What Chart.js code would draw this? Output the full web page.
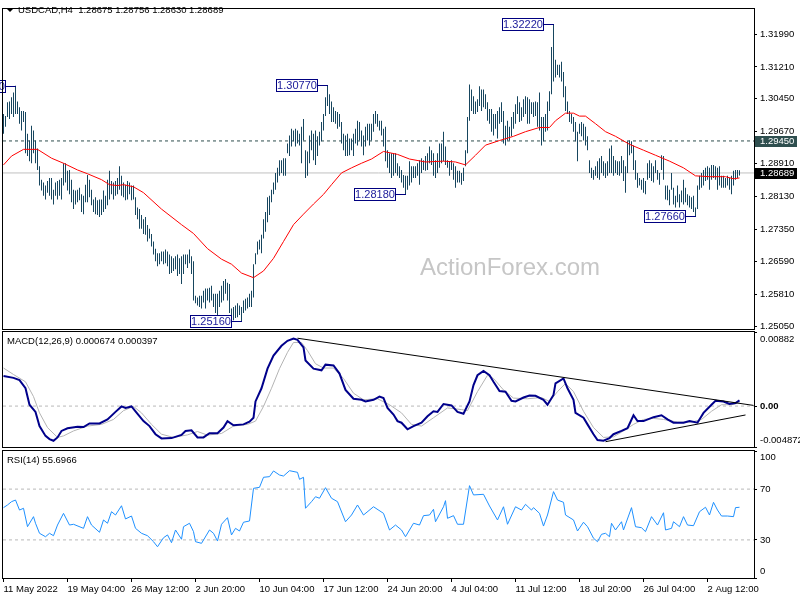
<!DOCTYPE html>
<html>
<head>
<meta charset="utf-8">
<title>USDCAD H4</title>
<script src="https://cdn.jsdelivr.net/npm/chart.js@4.4.0/dist/chart.umd.min.js"></script>
<style>
  html, body { margin: 0; padding: 0; background: #fff; }
  #wrap { position: relative; width: 800px; height: 600px; overflow: hidden; }
  #wrap canvas { position: absolute; left: 0; top: 0; }
</style>
</head>
<body>
<div id="wrap">
  <canvas id="priceChart" width="800" height="600"></canvas>
  <canvas id="macdChart" width="800" height="600"></canvas>
  <canvas id="rsiChart" width="800" height="600"></canvas>
</div>
<script>
const FONT = '"Liberation Sans", Arial, sans-serif';

// time axis (bar index, H4 bars)
const xTickIndex = [0, 32, 64, 96, 128, 160, 192, 224, 256, 288, 320, 352];
const xTickLabels = ['11 May 2022', '19 May 04:00', '26 May 12:00', '2 Jun 20:00', '10 Jun 04:00', '17 Jun 12:00',
  '24 Jun 20:00', '4 Jul 04:00', '11 Jul 12:00', '18 Jul 20:00', '26 Jul 04:00', '2 Aug 12:00'];
const xMin = -0.25, xMax = 375.25;

// price panel
const priceTicks = [1.2505, 1.2581, 1.2659, 1.2735, 1.2813, 1.2891, 1.2967, 1.3045, 1.3121, 1.3199];
const priceTickLabels = ['1.25050', '1.25810', '1.26590', '1.27350', '1.28130', '1.28910', '1.29670', '1.30450', '1.31210', '1.31990'];
const priceMin = 1.2498, priceMax = 1.32586;

const barHigh = [
  1.3009,1.3004,1.3037,1.3039,1.3049,1.3060,1.3076,1.3039,1.3025,1.3016,
  1.3016,1.3014,1.2962,1.2946,1.2981,1.2970,1.2946,1.2927,1.2885,1.2853,
  1.2846,1.2839,1.2850,1.2857,1.2857,1.2829,1.2846,1.2850,1.2853,1.2857,
  1.2892,1.2892,1.2874,1.2876,1.2853,1.2829,1.2827,1.2829,1.2834,1.2818,
  1.2815,1.2841,1.2864,1.2853,1.2829,1.2806,1.2811,1.2804,1.2806,1.2806,
  1.2827,1.2815,1.2853,1.2874,1.2850,1.2846,1.2850,1.2857,1.2885,1.2862,
  1.2846,1.2841,1.2850,1.2846,1.2839,1.2839,1.2811,1.2787,1.2783,1.2769,
  1.2759,1.2764,1.2745,1.2736,1.2724,1.2706,1.2689,1.2678,1.2678,1.2682,
  1.2682,1.2687,1.2682,1.2675,1.2671,1.2666,1.2671,1.2675,1.2666,1.2671,
  1.2675,1.2675,1.2675,1.2687,1.2671,1.2659,1.2577,1.2573,1.2577,1.2577,
  1.2589,1.2594,1.2594,1.2596,1.2601,1.2582,1.2582,1.2582,1.2589,1.2601,
  1.2612,1.2617,1.2608,1.2605,1.2547,1.2550,1.2554,1.2559,1.2554,1.2550,
  1.2566,1.2570,1.2573,1.2582,1.2589,1.2652,1.2678,1.2706,1.2710,1.2722,
  1.2759,1.2776,1.2811,1.2815,1.2829,1.2846,1.2869,1.2881,1.2899,1.2899,
  1.2904,1.2904,1.2939,1.2958,1.2974,1.2970,1.2974,1.2970,1.2962,1.2979,
  1.2997,1.2923,1.2920,1.2958,1.2970,1.2962,1.2970,1.2956,1.2967,1.2990,
  1.3009,1.3049,1.3077,1.3056,1.3039,1.3025,1.3016,1.3014,1.3009,1.2990,
  1.2962,1.2958,1.2962,1.2951,1.2951,1.2962,1.2974,1.2993,1.2990,1.2970,
  1.2958,1.2979,1.2986,1.2986,1.2986,1.3009,1.3016,1.3009,1.2993,1.2993,
  1.2974,1.2979,1.2923,1.2916,1.2916,1.2916,1.2916,1.2892,1.2885,1.2876,
  1.2864,1.2862,1.2862,1.2897,1.2885,1.2885,1.2885,1.2892,1.2899,1.2904,
  1.2899,1.2909,1.2916,1.2932,1.2923,1.2916,1.2899,1.2916,1.2939,1.2939,
  1.2967,1.2932,1.2899,1.2897,1.2899,1.2892,1.2885,1.2874,1.2874,1.2869,
  1.2881,1.2923,1.3002,1.3079,1.3067,1.3051,1.3039,1.3044,1.3075,1.3067,
  1.3067,1.3056,1.3037,1.3021,1.3021,1.3009,1.3009,1.3016,1.3025,1.3037,
  1.3016,1.2981,1.2993,1.2979,1.3002,1.3014,1.3032,1.3051,1.3037,1.3025,
  1.3044,1.3051,1.3049,1.3044,1.3037,1.3037,1.3039,1.3037,1.3060,1.3002,
  1.3002,1.3009,1.3039,1.3063,1.3168,1.3222,1.3138,1.3126,1.3126,1.3133,
  1.3109,1.3075,1.3039,1.3016,1.3009,1.3002,1.2990,1.2967,1.2986,1.2990,
  1.2986,1.2979,1.2956,1.2899,1.2881,1.2876,1.2885,1.2897,1.2904,1.2909,
  1.2897,1.2892,1.2897,1.2927,1.2934,1.2909,1.2899,1.2897,1.2897,1.2909,
  1.2899,1.2885,1.2944,1.2946,1.2944,1.2934,1.2899,1.2869,1.2857,1.2853,
  1.2857,1.2850,1.2892,1.2899,1.2892,1.2885,1.2899,1.2876,1.2869,1.2911,
  1.2909,1.2839,1.2839,1.2829,1.2869,1.2834,1.2815,1.2839,1.2818,1.2827,
  1.2853,1.2834,1.2818,1.2815,1.2811,1.2815,1.2787,1.2839,1.2862,1.2869,
  1.2876,1.2881,1.2885,1.2881,1.2888,1.2888,1.2885,1.2881,1.2885,1.2862,
  1.2862,1.2857,1.2862,1.2857,1.2862,1.2874,1.2876,1.2876,1.28756
];
const barLow = [
  1.2962,1.2979,1.3002,1.2997,1.3009,1.3002,1.3009,1.3009,1.2986,1.2970,
  1.2990,1.2916,1.2909,1.2897,1.2892,1.2916,1.2892,1.2876,1.2839,1.2827,
  1.2815,1.2806,1.2822,1.2815,1.2806,1.2794,1.2815,1.2806,1.2815,1.2806,
  1.2839,1.2846,1.2827,1.2818,1.2799,1.2783,1.2794,1.2799,1.2804,1.2776,
  1.2771,1.2799,1.2799,1.2811,1.2792,1.2776,1.2771,1.2769,1.2764,1.2769,
  1.2776,1.2783,1.2792,1.2806,1.2818,1.2806,1.2815,1.2818,1.2829,1.2815,
  1.2811,1.2804,1.2806,1.2818,1.2804,1.2806,1.2769,1.2759,1.2736,1.2736,
  1.2724,1.2722,1.2706,1.2713,1.2694,1.2675,1.2659,1.2647,1.2652,1.2659,
  1.2652,1.2654,1.2647,1.2629,1.2631,1.2636,1.2640,1.2624,1.2629,1.2605,
  1.2629,1.2652,1.2643,1.2654,1.2629,1.2566,1.2559,1.2554,1.2550,1.2547,
  1.2561,1.2547,1.2566,1.2561,1.2566,1.2550,1.2536,1.2531,1.2550,1.2561,
  1.2566,1.2582,1.2566,1.2536,1.2524,1.2519,1.2524,1.2526,1.2531,1.2516,
  1.2536,1.2542,1.2547,1.2550,1.2550,1.2573,1.2652,1.2675,1.2687,1.2678,
  1.2713,1.2729,1.2752,1.2769,1.2799,1.2818,1.2829,1.2846,1.2862,1.2869,
  1.2862,1.2862,1.2916,1.2909,1.2932,1.2944,1.2932,1.2939,1.2934,1.2892,
  1.2946,1.2857,1.2862,1.2892,1.2923,1.2899,1.2888,1.2909,1.2934,1.2944,
  1.2970,1.3004,1.3028,1.3009,1.2990,1.2990,1.2986,1.2974,1.2979,1.2939,
  1.2923,1.2909,1.2909,1.2911,1.2923,1.2909,1.2939,1.2934,1.2946,1.2932,
  1.2911,1.2932,1.2946,1.2934,1.2946,1.2967,1.2986,1.2979,1.2970,1.2958,
  1.2932,1.2897,1.2881,1.2869,1.2857,1.2862,1.2869,1.2862,1.2857,1.2846,
  1.2834,1.2818,1.2829,1.2839,1.2846,1.2857,1.2857,1.2862,1.2841,1.2869,
  1.2876,1.2874,1.2876,1.2892,1.2888,1.2862,1.2857,1.2869,1.2881,1.2892,
  1.2897,1.2888,1.2881,1.2862,1.2876,1.2853,1.2834,1.2846,1.2846,1.2841,
  1.2850,1.2885,1.2916,1.2993,1.3016,1.3009,1.3009,1.3014,1.3028,1.3016,
  1.3025,1.3021,1.2993,1.2986,1.2967,1.2958,1.2974,1.2951,1.2986,1.2990,
  1.2939,1.2934,1.2946,1.2946,1.2956,1.2974,1.2986,1.3009,1.2990,1.2993,
  1.3002,1.3009,1.2986,1.2986,1.3009,1.3002,1.3004,1.2979,1.2970,1.2934,
  1.2944,1.2967,1.2970,1.3016,1.3056,1.3086,1.3096,1.3102,1.3096,1.3086,
  1.3049,1.3016,1.3009,1.2990,1.2986,1.2967,1.2944,1.2897,1.2962,1.2956,
  1.2946,1.2934,1.2923,1.2869,1.2857,1.2853,1.2862,1.2857,1.2853,1.2869,
  1.2862,1.2857,1.2862,1.2869,1.2869,1.2862,1.2869,1.2864,1.2862,1.2869,
  1.2850,1.2822,1.2869,1.2911,1.2916,1.2876,1.2853,1.2834,1.2839,1.2829,
  1.2822,1.2818,1.2853,1.2857,1.2850,1.2846,1.2869,1.2853,1.2841,1.2876,
  1.2853,1.2806,1.2804,1.2792,1.2829,1.2794,1.2787,1.2799,1.2787,1.2799,
  1.2794,1.2799,1.2792,1.2787,1.2783,1.2776,1.2766,1.2783,1.2829,1.2834,
  1.2839,1.2850,1.2853,1.2829,1.2853,1.2857,1.2853,1.2829,1.2839,1.2834,
  1.2834,1.2834,1.2839,1.2829,1.2818,1.2839,1.2853,1.2857,1.28630
];

// moving average (red)
const maIndex = [0,4,10,17,24,30,37,42,49,53,57,60,65,70,79,89,95,102,109,114,
  119,125,130,135,140,145,150,155,160,164,169,174,179,184,190,197,203,211,220,226,
  231,236,241,248,255,261,268,273,276,281,285,288,291,296,301,306,313,320,326,333,
  340,346,353,361,365,368];
const maValue = [1.2888,1.2909,1.2925,1.2925,1.2904,1.2892,1.2876,1.2867,1.2853,1.2841,
  1.2839,1.2841,1.2836,1.2822,1.2783,1.2746,1.2725,1.2689,1.2664,1.2652,
  1.2631,1.2620,1.2636,1.2666,1.2706,1.2746,1.2771,1.2795,1.2818,1.2841,
  1.2869,1.2881,1.2892,1.2902,1.2920,1.2913,1.2902,1.2895,1.2897,1.2895,
  1.2888,1.2911,1.2935,1.2946,1.2956,1.2967,1.2977,1.2977,1.2993,1.3011,
  1.3011,1.3004,1.3004,1.2986,1.2967,1.2956,1.2937,1.2923,1.2911,1.2897,
  1.2881,1.2862,1.2860,1.2860,1.2855,1.2857];

// marked highs / lows
const extremeIndex = [6, 162, 119, 201, 275, 346];
const extremeValue = [1.3076, 1.3077, 1.2516, 1.2818, 1.3222, 1.2766];
const extremeText = ['1.30760', '1.30770', '1.25160', '1.28180', '1.32220', '1.27660'];

// horizontal levels: resistance line and last price
const levelValues = [1.2945, 1.28689];
const levelText = ['1.29450', '1.28689'];

// MACD panel
const macdTicks = [-0.004872, 0, 0.00882];
const macdTickLabels = ['-0.004872', '0.00', '0.00882'];
const macdIndex = [0,5,8,11,13,16,18,21,23,25,27,29,32,37,40,43,48,52,56,59,
  61,64,66,70,73,76,79,84,89,91,94,97,100,103,107,110,112,115,120,123,
  125,126,129,132,135,139,142,145,147,150,151,155,159,161,165,168,171,175,179,181,
  185,188,190,192,195,197,199,202,205,209,212,215,217,220,224,227,230,233,235,237,
  240,243,245,248,251,254,256,260,263,266,270,272,275,276,280,282,285,286,290,292,
  295,297,300,303,305,309,312,315,317,320,325,329,332,335,340,343,347,350,354,356,
  360,363,366,368];
const macdValue = [0.00359,0.00336,0.00309,0.00212,0.00016,-0.00069,-0.00238,-0.00355,-0.00393,-0.00413,
  -0.00373,-0.00296,-0.00264,-0.00245,-0.00249,-0.00206,-0.00206,-0.00159,-0.00069,-0.00004,
  -0.00022,-0.00004,-0.00062,-0.00179,-0.00238,-0.00335,-0.00385,-0.00381,-0.00343,-0.00296,
  -0.00288,-0.00373,-0.00373,-0.00323,-0.00323,-0.00256,-0.00179,-0.00229,-0.00218,-0.00186,
  -0.00139,0.00055,0.00212,0.00446,0.00601,0.00718,0.00777,0.00804,0.00789,0.00698,
  0.00543,0.00446,0.00426,0.00493,0.00484,0.00387,0.00192,0.00087,0.00075,0.00055,
  0.00075,0.00113,0.00095,-0.00022,-0.00101,-0.00179,-0.00198,-0.00276,-0.00238,-0.00198,
  -0.00121,-0.00062,-0.00069,0.00025,0.00008,-0.00069,-0.00092,0.00055,0.00250,0.00367,
  0.00418,0.00367,0.00289,0.00180,0.00172,0.00063,0.00055,0.00102,0.00125,0.00122,
  0.00075,0.00016,0.00133,0.00270,0.00329,0.00212,0.00075,-0.00081,-0.00139,-0.00218,
  -0.00335,-0.00405,-0.00413,-0.00381,-0.00335,-0.00296,-0.00264,-0.00109,-0.00179,-0.00179,
  -0.00132,-0.00109,-0.00159,-0.00198,-0.00198,-0.00179,-0.00198,-0.00081,0.00016,0.00063,
  0.00055,0.00025,0.00036,0.00067];
const signalIndex = [0,5,11,15,18,22,27,30,35,42,49,55,60,65,69,74,79,85,92,97,
  102,109,115,122,126,130,134,138,142,145,149,152,156,160,165,170,175,180,187,193,
  199,204,209,215,222,229,232,237,242,245,250,255,262,269,273,277,281,285,290,295,
  300,305,310,315,320,325,330,337,344,349,354,359,364,368];
const signalValue = [0.00453,0.00376,0.00289,0.00113,-0.00081,-0.00256,-0.00373,-0.00355,-0.00296,-0.00238,
  -0.00218,-0.00159,-0.00054,-0.00004,-0.00081,-0.00218,-0.00335,-0.00373,-0.00343,-0.00303,
  -0.00346,-0.00326,-0.00238,-0.00218,-0.00179,-0.00004,0.00212,0.00446,0.00640,0.00757,
  0.00757,0.00660,0.00504,0.00453,0.00453,0.00329,0.00153,0.00075,0.00087,0.00016,
  -0.00081,-0.00218,-0.00238,-0.00139,-0.00022,-0.00042,-0.00054,0.00172,0.00367,0.00329,
  0.00192,0.00095,0.00087,0.00102,0.00055,0.00172,0.00270,0.00172,-0.00062,-0.00256,
  -0.00373,-0.00366,-0.00296,-0.00218,-0.00159,-0.00147,-0.00159,-0.00191,-0.00191,-0.00159,
  -0.00062,0.00016,0.00016,0.00040];
const trendUpperIndex = [147, 375];
const trendUpperValue = [0.00808, 0.00008];
const trendLowerIndex = [301, 371];
const trendLowerValue = [-0.00424, -0.00106];

// RSI panel
const rsiTicks = [0, 30, 70, 100];
const rsiTickLabels = ['0', '30', '70', '100'];
const rsiLevels = [30, 70];
const rsiIndex = [0,2,4,6,8,10,12,15,16,18,21,23,25,27,30,33,35,40,42,44,
  48,50,52,54,56,59,61,64,66,69,72,75,77,80,82,84,86,89,90,93,
  95,96,99,100,103,105,107,109,112,114,116,118,120,123,125,128,130,133,135,138,
  140,143,147,148,150,151,154,156,158,161,164,167,171,174,177,180,185,190,193,196,
  199,201,205,208,210,213,215,216,220,221,222,225,227,230,233,235,240,243,247,250,
  252,256,259,261,264,265,268,270,272,275,277,280,281,285,287,290,292,295,297,299,
  301,303,304,306,309,310,314,316,319,321,324,327,330,331,334,335,338,340,342,345,
  348,351,353,355,357,359,362,365,366,368];
const rsiValue = [55.4,57.5,60.1,61.4,53.5,54.9,40.4,48.3,43.1,35.2,32.5,35.2,33.3,41.7,50.9,41.7,42.3,39.1,48.3,41.7,
  36.0,45.7,43.1,52.2,49.6,56.9,46.5,48.8,39.1,35.2,33.3,28.6,24.6,31.7,33.9,27.8,37.8,30.5,40.4,43.1,
  36.5,28.6,27.3,29.9,37.8,35.2,29.1,42.3,47.5,33.9,39.1,37.0,43.9,44.9,70.6,71.4,79.3,79.8,84.3,81.1,
  80.3,84.5,83.2,77.7,79.3,54.9,60.1,64.0,62.8,71.1,62.8,60.1,44.3,49.6,57.5,49.6,56.1,50.9,37.8,41.7,
  37.8,32.5,43.1,41.7,49.1,49.6,54.1,44.3,56.1,60.9,47.0,49.1,42.3,42.3,72.7,65.4,65.9,56.7,45.7,56.1,
  42.3,56.1,53.5,58.0,53.5,55.4,50.9,40.9,49.6,68.0,61.4,59.6,49.6,45.7,37.0,43.9,40.4,31.3,28.6,34.4,
  35.2,32.5,43.1,37.8,44.3,37.8,55.4,40.4,39.6,36.5,48.3,41.7,51.4,37.8,39.1,44.3,40.4,48.3,41.7,41.2,
  52.2,55.7,49.6,59.6,53.5,48.8,48.8,48.3,55.4,55.7];

// helpers
const toPoints = (xs, ys) => xs.map((x, k) => ({ x: x, y: ys[k] }));
const flat = (v) => [{ x: xMin, y: v }, { x: xMax, y: v }];

const framePlugin = {
  id: 'frame',
  afterDraw(chart) {
    const a = chart.chartArea, ctx = chart.ctx;
    ctx.save();
    ctx.strokeStyle = '#000';
    ctx.lineWidth = 1;
    ctx.strokeRect(a.left - 0.5, a.top - 0.5, a.right - a.left + 1, a.bottom - a.top + 1);
    ctx.restore();
  }
};

function caption(text) {
  return {
    id: 'caption',
    afterDraw(chart) {
      const ctx = chart.ctx, a = chart.chartArea;
      ctx.save();
      ctx.font = '9.5px ' + FONT;
      ctx.fillStyle = '#000';
      ctx.textBaseline = 'middle';
      ctx.fillText(text, a.left + 4, a.top + 9);
      ctx.restore();
    }
  };
}

function hiddenX() {
  return { type: 'linear', display: false, min: xMin, max: xMax, offset: false, grid: { offset: false } };
}

function rightAxis(min, max, ticks, labelFn, lineHeight, boldZero) {
  return {
    type: 'linear', position: 'right', min: min, max: max, beginAtZero: false,
    afterFit: (s) => { s.width = 46; },
    afterBuildTicks: (s) => { s.ticks = ticks.map(v => ({ value: v })); },
    grid: { drawOnChartArea: false, drawTicks: true, tickLength: 3, color: '#000' },
    border: { display: false },
    ticks: {
      autoSkip: false, padding: 3, color: '#000', callback: labelFn,
      font: (c) => ({ family: FONT, size: 9.5, lineHeight: lineHeight,
        weight: (boldZero && c.tick && c.tick.value === 0) ? 'bold' : 'normal' })
    }
  };
}

// labels at the top and bottom edges sit inside the panel, like the terminal does
function edgeLabels(labels) {
  return (v, i) => {
    if (i === labels.length - 1) return ['', labels[i]];
    if (i === 0) return [labels[i], ''];
    return labels[i];
  };
}

const baseOptions = () => ({
  responsive: false, animation: false, devicePixelRatio: 1, events: [],
  plugins: { legend: { display: false }, tooltip: { enabled: false } }
});

// ---------- price chart ----------
const priceExtras = {
  id: 'priceExtras',
  beforeDatasetsDraw(chart) {
    const ctx = chart.ctx;
    ctx.save();
    ctx.font = '24px ' + FONT;
    ctx.fillStyle = '#c6c6c6';
    ctx.textAlign = 'center';
    ctx.fillText('ActionForex.com', 510, 275);
    ctx.restore();
  },
  afterDraw(chart) {
    const ctx = chart.ctx, xs = chart.scales.x, ys = chart.scales.y;
    ctx.save();
    // title
    ctx.fillStyle = '#000';
    ctx.beginPath(); ctx.moveTo(7, 9); ctx.lineTo(13, 9); ctx.lineTo(10, 12); ctx.closePath(); ctx.fill();
    ctx.font = '9.5px ' + FONT;
    ctx.textBaseline = 'middle';
    ctx.fillText('USDCAD,H4  1.28675 1.28756 1.28630 1.28689', 18, 10.5);

    // high / low markers
    ctx.font = '11px ' + FONT;
    ctx.textAlign = 'center';
    ctx.lineWidth = 1;
    for (let k = 0; k < extremeIndex.length; k++) {
      const bx = Math.floor(xs.getPixelForValue(extremeIndex[k]));
      const r = Math.round(ys.getPixelForValue(extremeValue[k]));
      const right = bx - 10, left = right - 41;
      ctx.strokeStyle = '#000080';
      ctx.beginPath(); ctx.moveTo(right, r + 0.5); ctx.lineTo(bx + 1, r + 0.5); ctx.stroke();
      ctx.fillStyle = '#fff';
      ctx.fillRect(left, r - 6, 42, 13);
      ctx.strokeRect(left + 0.5, r - 5.5, 41, 12);
      ctx.fillStyle = '#1a1a9a';
      ctx.fillText(extremeText[k], left + 21, r + 1);
    }

    // price tags on the axis
    ctx.font = '9.5px ' + FONT;
    ctx.textAlign = 'left';
    const tagColors = ['#2f4f4f', '#000'];
    for (let k = 0; k < levelValues.length; k++) {
      const r = Math.round(ys.getPixelForValue(levelValues[k]));
      ctx.fillStyle = tagColors[k];
      ctx.fillRect(755, r - 5, 42, 11);
      ctx.fillStyle = '#fff';
      ctx.fillText(levelText[k], 760, r + 0.5);
    }
    ctx.restore();
  }
};

const priceOpts = baseOptions();
priceOpts.layout = { padding: { left: 3, top: 3, right: 0, bottom: 271 } };
priceOpts.scales = {
  x: hiddenX(),
  y: rightAxis(priceMin, priceMax, priceTicks, (v, i) => priceTickLabels[i], '12px', false)
};

new Chart(document.getElementById('priceChart'), {
  type: 'line',
  data: {
    datasets: [
      { type: 'line', data: flat(levelValues[1]), borderColor: '#c0c0c0', borderWidth: 1, pointRadius: 0, order: 4 },
      { type: 'line', data: flat(levelValues[0]), borderColor: '#2f4f4f', borderWidth: 1, borderDash: [3, 3], pointRadius: 0, order: 3 },
      { type: 'bar', data: barLow.map((lo, i) => ({ x: i, y: [lo, barHigh[i]] })),
        backgroundColor: '#17465f', borderWidth: 0, barThickness: 1, inflateAmount: 0, order: 2 },
      { type: 'line', data: toPoints(maIndex, maValue), borderColor: '#ff0000', borderWidth: 1, pointRadius: 0, tension: 0, order: 1 }
    ]
  },
  options: priceOpts,
  plugins: [priceExtras, framePlugin]
});

// ---------- MACD ----------
const macdOpts = baseOptions();
macdOpts.layout = { padding: { left: 3, top: 332, right: 0, bottom: 153 } };
macdOpts.scales = {
  x: hiddenX(),
  y: rightAxis(macdTicks[0], macdTicks[2], macdTicks, edgeLabels(macdTickLabels), '14px', true)
};

new Chart(document.getElementById('macdChart'), {
  type: 'line',
  data: {
    datasets: [
      { data: flat(0), borderColor: '#b8b8b8', borderWidth: 1, borderDash: [3, 3], pointRadius: 0, order: 5 },
      { data: toPoints(signalIndex, signalValue), borderColor: '#b4b4b4', borderWidth: 1, pointRadius: 0, order: 4 },
      { data: toPoints(macdIndex, macdValue), borderColor: '#00008b', borderWidth: 2, pointRadius: 0, order: 3 },
      { data: toPoints(trendUpperIndex, trendUpperValue), borderColor: '#000', borderWidth: 1, pointRadius: 0, order: 2 },
      { data: toPoints(trendLowerIndex, trendLowerValue), borderColor: '#000', borderWidth: 1, pointRadius: 0, order: 1 }
    ]
  },
  options: macdOpts,
  plugins: [caption('MACD(12,26,9) 0.000674 0.000397'), framePlugin]
});

// ---------- RSI ----------
const rsiOpts = baseOptions();
rsiOpts.layout = { padding: { left: 3, top: 451, right: 0, bottom: 0 } };
rsiOpts.scales = {
  x: {
    type: 'linear', position: 'bottom', min: xMin, max: xMax, offset: false,
    afterFit: (s) => { s.height = 22; },
    afterBuildTicks: (s) => { s.ticks = xTickIndex.map(v => ({ value: v })); },
    grid: { drawOnChartArea: false, drawTicks: true, tickLength: 4, color: '#000', offset: false },
    border: { display: false },
    ticks: { autoSkip: false, maxRotation: 0, minRotation: 0, align: 'start', labelOffset: 0, padding: 2, color: '#000',
      font: { family: FONT, size: 9.5 }, callback: (v, i) => xTickLabels[i] }
  },
  y: rightAxis(0, 100, rsiTicks, edgeLabels(rsiTickLabels), '13px', false)
};

new Chart(document.getElementById('rsiChart'), {
  type: 'line',
  data: {
    datasets: [
      { data: flat(rsiLevels[0]), borderColor: '#b8b8b8', borderWidth: 1, borderDash: [3, 3], pointRadius: 0, order: 3 },
      { data: flat(rsiLevels[1]), borderColor: '#b8b8b8', borderWidth: 1, borderDash: [3, 3], pointRadius: 0, order: 2 },
      { data: toPoints(rsiIndex, rsiValue), borderColor: '#1e90ff', borderWidth: 1, pointRadius: 0, tension: 0, order: 1 }
    ]
  },
  options: rsiOpts,
  plugins: [caption('RSI(14) 55.6966'), framePlugin]
});
</script>
</body>
</html>
